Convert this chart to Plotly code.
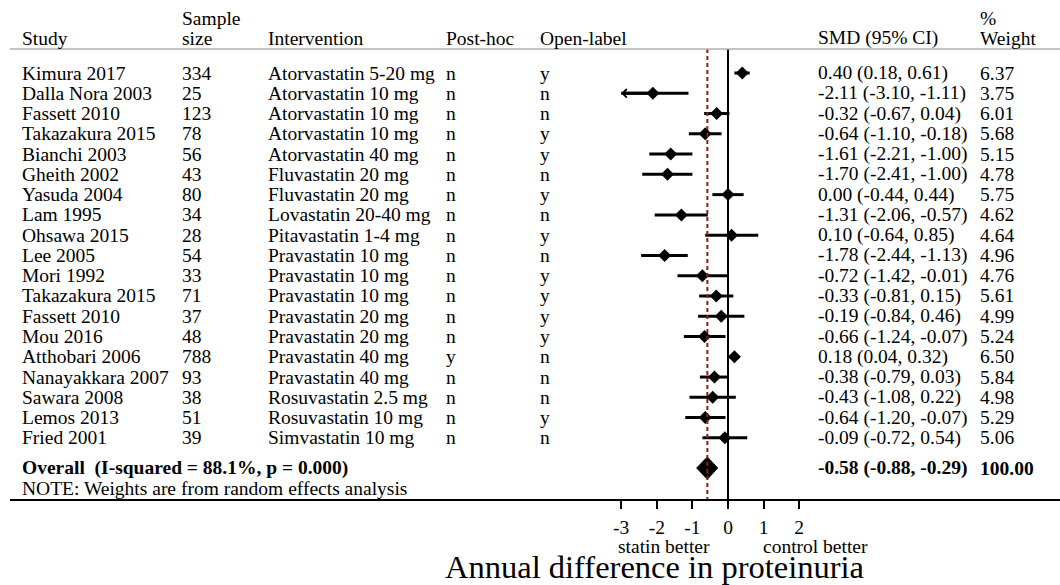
import plotly.graph_objects as go

# ---------------- data ----------------
studies = ["Kimura 2017", "Dalla Nora 2003", "Fassett 2010", "Takazakura 2015", "Bianchi 2003",
           "Gheith 2002", "Yasuda 2004", "Lam 1995", "Ohsawa 2015", "Lee 2005", "Mori 1992",
           "Takazakura 2015", "Fassett 2010", "Mou 2016", "Atthobari 2006", "Nanayakkara 2007",
           "Sawara 2008", "Lemos 2013", "Fried 2001"]
sample_size = [334, 25, 123, 78, 56, 43, 80, 34, 28, 54, 33, 71, 37, 48, 788, 93, 38, 51, 39]
intervention = ["Atorvastatin 5-20 mg", "Atorvastatin 10 mg", "Atorvastatin 10 mg", "Atorvastatin 10 mg",
                "Atorvastatin 40 mg", "Fluvastatin 20 mg", "Fluvastatin 20 mg", "Lovastatin 20-40 mg",
                "Pitavastatin 1-4 mg", "Pravastatin 10 mg", "Pravastatin 10 mg", "Pravastatin 10 mg",
                "Pravastatin 20 mg", "Pravastatin 20 mg", "Pravastatin 40 mg", "Pravastatin 40 mg",
                "Rosuvastatin 2.5 mg", "Rosuvastatin 10 mg", "Simvastatin 10 mg"]
post_hoc = ["n", "n", "n", "n", "n", "n", "n", "n", "n", "n", "n", "n", "n", "n", "y", "n", "n", "n", "n"]
open_label = ["y", "n", "n", "y", "y", "n", "y", "n", "y", "n", "y", "y", "y", "y", "n", "n", "n", "y", "n"]
smd = [0.40, -2.11, -0.32, -0.64, -1.61, -1.70, 0.00, -1.31, 0.10, -1.78, -0.72, -0.33, -0.19, -0.66,
       0.18, -0.38, -0.43, -0.64, -0.09]
ci_low = [0.18, -3.10, -0.67, -1.10, -2.21, -2.41, -0.44, -2.06, -0.64, -2.44, -1.42, -0.81, -0.84, -1.24,
          0.04, -0.79, -1.08, -1.20, -0.72]
ci_high = [0.61, -1.11, 0.04, -0.18, -1.00, -1.00, 0.44, -0.57, 0.85, -1.13, -0.01, 0.15, 0.46, -0.07,
           0.32, 0.03, 0.22, -0.07, 0.54]
weight = [6.37, 3.75, 6.01, 5.68, 5.15, 4.78, 5.75, 4.62, 4.64, 4.96, 4.76, 5.61, 4.99, 5.24, 6.50,
          5.84, 4.98, 5.29, 5.06]
overall_smd, overall_low, overall_high, overall_weight = -0.58, -0.88, -0.29, 100.00
overall_label = "Overall  (I-squared = 88.1%, p = 0.000)"
note_text = "NOTE: Weights are from random effects analysis"
tick_vals = [-3, -2, -1, 0, 1, 2]
x_clip = -3.0

# ---------------- layout constants ----------------
W, H = 1060, 585
FONT = "Liberation Serif"
FS = 19.5
n = len(studies)
rows = list(range(n))
row_overall = 19.49
row_note = 20.5
row_head_top = -2.68
row_head_bot = -1.72
row_line = -1.18


def px(xp):
    return xp / W


def py(yp):
    return 1 - yp / H


fig = go.Figure()

# CI bars (clipped at display minimum)
plus = [h - s for s, h in zip(smd, ci_high)]
minus = [s - max(l, x_clip) for s, l in zip(smd, ci_low)]
fig.add_trace(go.Scatter(
    x=smd, y=rows, mode="markers",
    marker=dict(symbol="diamond", size=10, color="black"),
    error_x=dict(type="data", symmetric=False, array=plus, arrayminus=minus,
                 thickness=3, width=0, color="black"),
    showlegend=False, hoverinfo="skip"))

# arrows for clipped CIs
for i in rows:
    if ci_low[i] < x_clip:
        fig.add_annotation(x=x_clip, y=i, ax=smd[i], ay=i, xref="x", yref="y",
                           axref="x", ayref="y", text="", showarrow=True,
                           arrowhead=4, arrowsize=0.55, arrowwidth=3, arrowcolor="black",
                           standoff=0)

# Overall diamond
dh = 0.55
fig.add_trace(go.Scatter(
    x=[overall_low, overall_smd, overall_high, overall_smd, overall_low],
    y=[row_overall, row_overall - dh, row_overall, row_overall + dh, row_overall],
    mode="lines", fill="toself", fillcolor="black", line=dict(color="black", width=1),
    showlegend=False, hoverinfo="skip"))

# reference lines
fig.add_shape(type="line", xref="x", yref="y", x0=0, x1=0, y0=row_line, y1=21.02,
              line=dict(color="black", width=2))
fig.add_shape(type="line", xref="x", yref="y", x0=overall_smd, x1=overall_smd, y0=row_line, y1=21.02,
              line=dict(color="#8b1a1a", width=2, dash="4px,3px"))
# header rule
fig.add_shape(type="line", xref="paper", yref="y", x0=px(10), x1=1, y0=row_line, y1=row_line,
              line=dict(color="#b0b0b0", width=1.5))

# ---------------- text columns ----------------
col_x = {"study": 20, "size": 180, "interv": 266, "post": 444, "open": 538, "smd": 816, "weight": 978}


def txt(xp, yrow, s, bold=False, size=FS):
    fig.add_annotation(x=px(xp), y=yrow, xref="paper", yref="y", text=("<b>%s</b>" % s) if bold else s,
                       showarrow=False, xanchor="left", yanchor="middle",
                       font=dict(family=FONT, size=size, color="black"))


# headers
txt(col_x["study"], row_head_bot, "Study")
txt(col_x["size"], row_head_top, "Sample")
txt(col_x["size"], row_head_bot, "size")
txt(col_x["interv"], row_head_bot, "Intervention")
txt(col_x["post"], row_head_bot, "Post-hoc")
txt(col_x["open"], row_head_bot, "Open-label")
txt(col_x["smd"], row_head_bot, "SMD (95% CI)")
txt(col_x["weight"], row_head_top, "%")
txt(col_x["weight"], row_head_bot, "Weight")

for i in rows:
    txt(col_x["study"], i, studies[i])
    txt(col_x["size"], i, str(sample_size[i]))
    txt(col_x["interv"], i, intervention[i])
    txt(col_x["post"], i, post_hoc[i])
    txt(col_x["open"], i, open_label[i])
    txt(col_x["smd"], i, "%.2f (%.2f, %.2f)" % (smd[i], ci_low[i], ci_high[i]))
    txt(col_x["weight"], i, "%.2f" % weight[i])

txt(col_x["study"], row_overall, overall_label, bold=True)
txt(col_x["smd"], row_overall, "%.2f (%.2f, %.2f)" % (overall_smd, overall_low, overall_high), bold=True)
txt(col_x["weight"], row_overall, "%.2f" % overall_weight, bold=True)
txt(col_x["study"], row_note, note_text)

# axis sub-labels and title
fig.add_annotation(x=-1.8, y=py(546), xref="x", yref="paper", text="statin better", showarrow=False,
                   xanchor="center", yanchor="middle", font=dict(family=FONT, size=FS, color="black"))
fig.add_annotation(x=2.45, y=py(546), xref="x", yref="paper", text="control better", showarrow=False,
                   xanchor="center", yanchor="middle", font=dict(family=FONT, size=FS, color="black"))
fig.add_annotation(x=px(654), y=py(567), xref="paper", yref="paper", text="Annual difference in proteinuria",
                   showarrow=False, xanchor="center", yanchor="middle",
                   font=dict(family=FONT, size=32.5, color="black"))

scale = 35.6
x0px = 728
fig.update_layout(
    width=W, height=H, margin=dict(l=0, r=0, t=0, b=0),
    paper_bgcolor="white", plot_bgcolor="white", template=None,
    xaxis=dict(domain=[px(10), 1], range=[(10 - x0px) / scale, (W - x0px) / scale],
               tickvals=tick_vals, ticktext=[str(v) for v in tick_vals],
               ticks="outside", ticklen=8, tickwidth=2, tickcolor="black",
               showline=True, linecolor="black", linewidth=2, showgrid=False, zeroline=False,
               tickfont=dict(family=FONT, size=FS, color="black"), automargin=False,
               ticklabelstandoff=2, fixedrange=True),
    yaxis=dict(domain=[1 - 499 / H, 1], range=[(499 - 73) / 20.27, -73 / 20.27],
               showticklabels=False, showgrid=False, zeroline=False, showline=False, ticks="",
               automargin=False, fixedrange=True),
    showlegend=False,
)

fig.write_html("out.html")
